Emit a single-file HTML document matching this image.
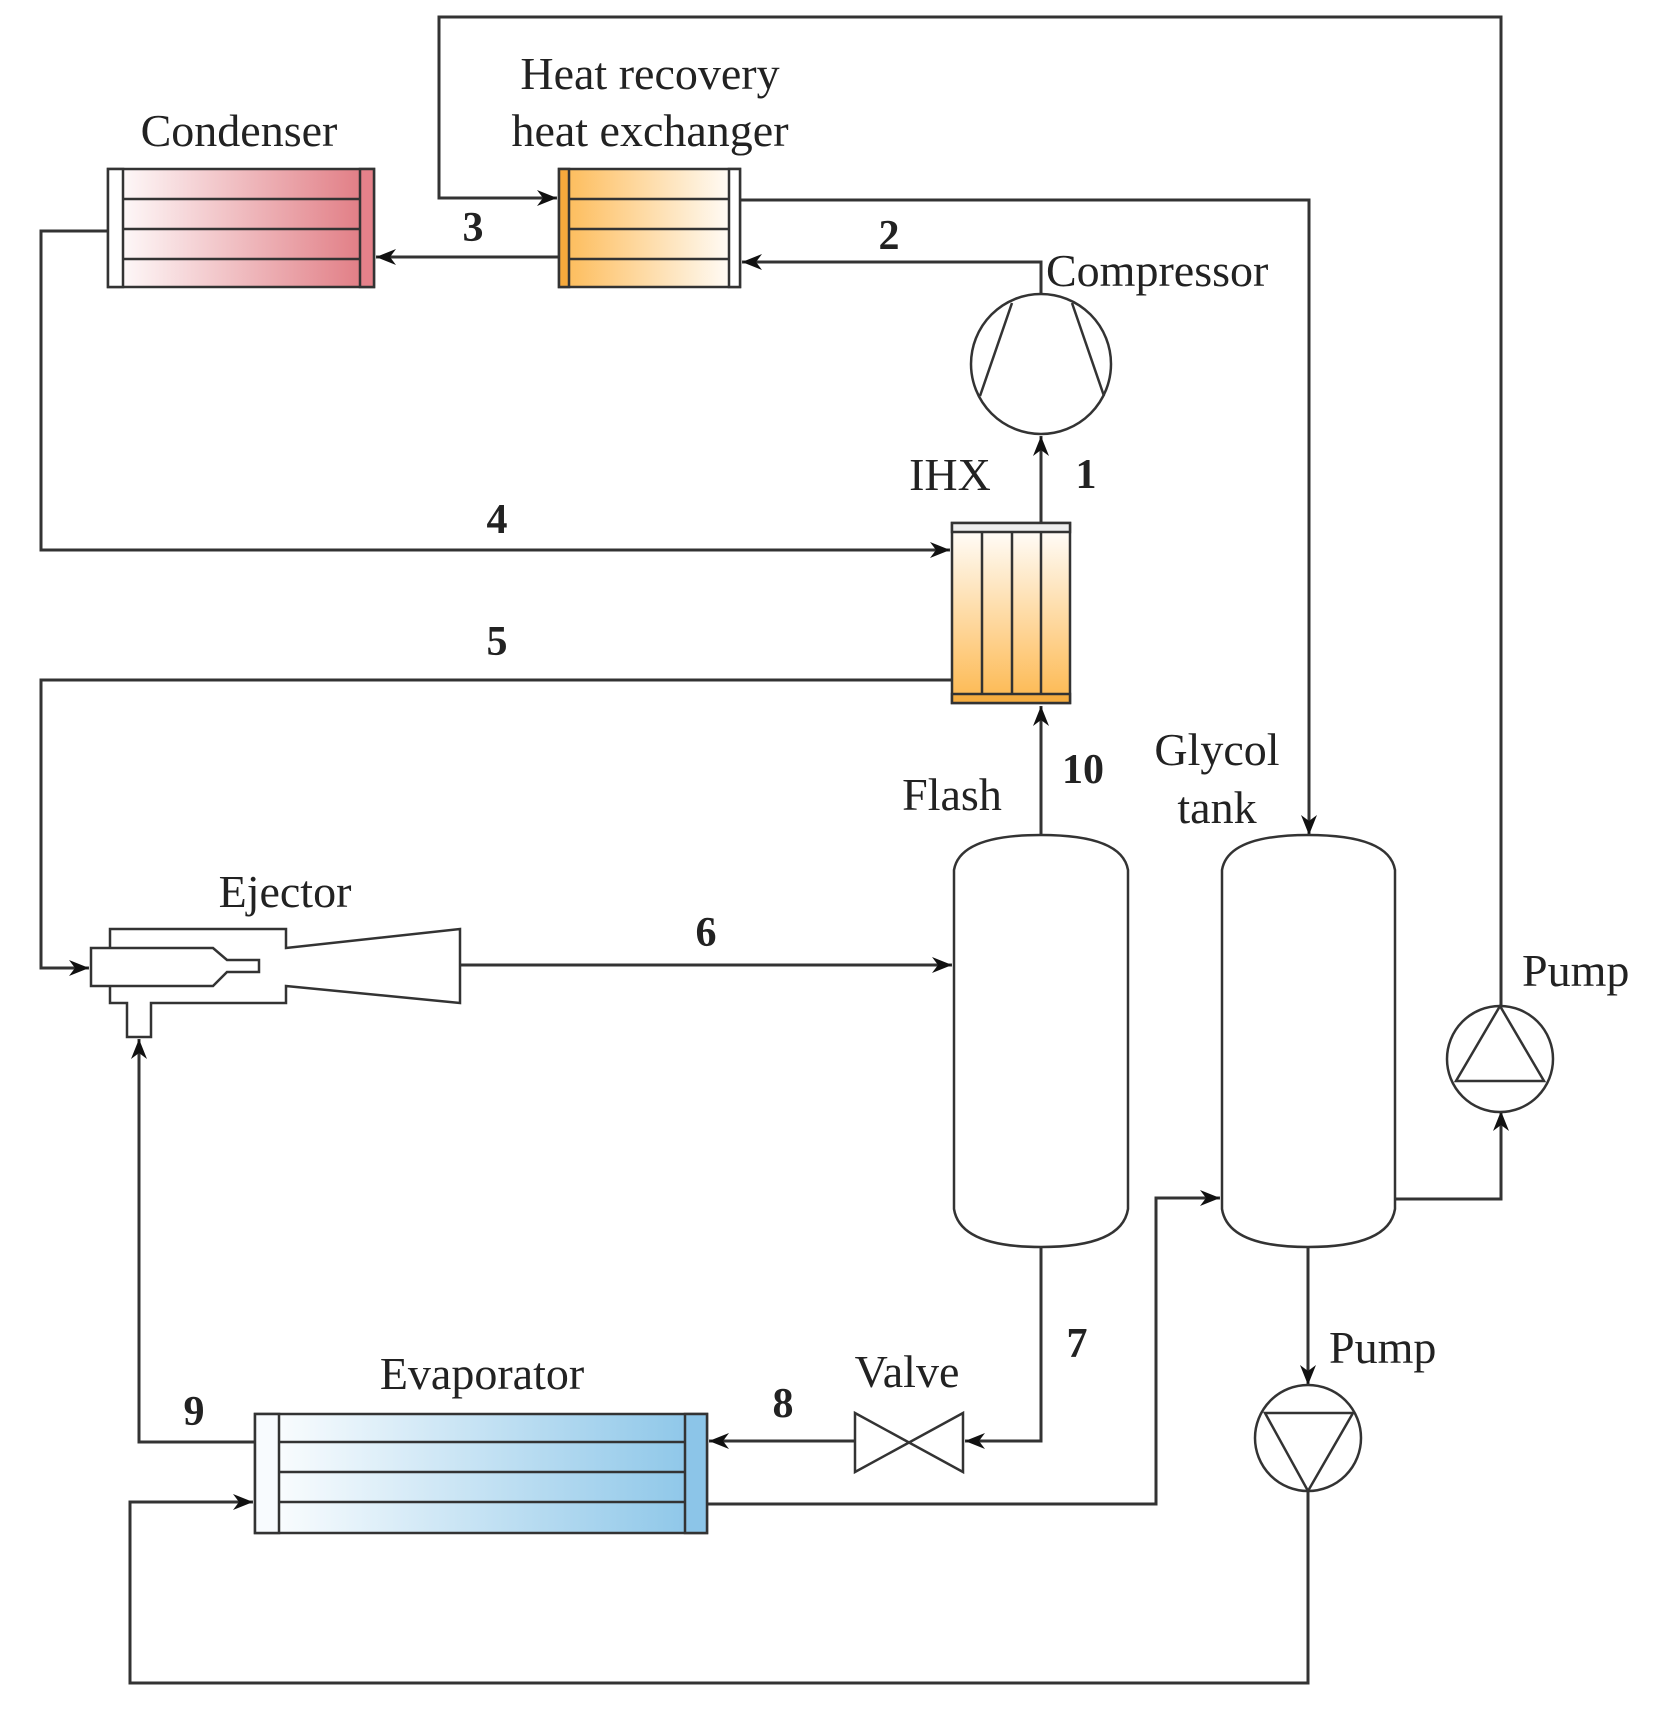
<!DOCTYPE html>
<html><head><meta charset="utf-8"><style>
html,body{margin:0;padding:0;background:#fff;}
svg{display:block;}
text{font-family:"Liberation Serif",serif;fill:#222;}
.l{font-size:46px;}
.n{font-size:42px;font-weight:bold;text-anchor:middle;}
</style></head><body>
<svg width="1659" height="1710" viewBox="0 0 1659 1710" xmlns="http://www.w3.org/2000/svg">
<defs>
<marker id="a" markerUnits="userSpaceOnUse" markerWidth="22" markerHeight="18" refX="20" refY="9" orient="auto">
<path d="M0,1 L20,9 L0,17 L6,9 z" fill="#111"/>
</marker>
<linearGradient id="gc" x1="0" x2="1" y1="0" y2="0"><stop offset="0" stop-color="#fff"/><stop offset="1" stop-color="#e07880"/></linearGradient>
<linearGradient id="gh" x1="0" x2="1" y1="0" y2="0"><stop offset="0" stop-color="#fdba55"/><stop offset="1" stop-color="#fff"/></linearGradient>
<linearGradient id="gi" x1="0" x2="0" y1="0" y2="1"><stop offset="0" stop-color="#fff"/><stop offset="1" stop-color="#fdb84f"/></linearGradient>
<linearGradient id="ge" x1="0" x2="1" y1="0" y2="0"><stop offset="0" stop-color="#fff"/><stop offset="1" stop-color="#8ac5e8"/></linearGradient>
</defs>
<g fill="none" stroke="#333" stroke-width="3">
<polyline points="1501,1111 1501,17 439,17 439,198 557,198" marker-end="url(#a)"/>
<polyline points="740,200 1309,200 1309,835" marker-end="url(#a)"/>
<polyline points="1041,294 1041,262 742,262" marker-end="url(#a)"/>
<polyline points="559,257 376,257" marker-end="url(#a)"/>
<polyline points="108,231 41,231 41,550 950,550" marker-end="url(#a)"/>
<polyline points="1041,523 1041,436" marker-end="url(#a)"/>
<polyline points="952,680 41,680 41,968 89,968" marker-end="url(#a)"/>
<polyline points="1041,835 1041,706" marker-end="url(#a)"/>
<polyline points="460,965 952,965" marker-end="url(#a)"/>
<polyline points="1041,1247 1041,1441 965,1441" marker-end="url(#a)"/>
<polyline points="855,1441 709,1441" marker-end="url(#a)"/>
<polyline points="255,1442 139,1442 139,1039" marker-end="url(#a)"/>
<polyline points="707,1504 1156,1504 1156,1198 1220,1198" marker-end="url(#a)"/>
<polyline points="1395,1199 1501,1199 1501,1111" marker-end="url(#a)"/>
<polyline points="1308,1247 1308,1385" marker-end="url(#a)"/>
<polyline points="1308,1491 1308,1683 130,1683 130,1502 253,1502" marker-end="url(#a)"/>
</g>

<g stroke="#333" stroke-width="2.5">
<rect x="108" y="169" width="266" height="118" fill="url(#gc)"/>
<rect x="108" y="169" width="15" height="118" fill="#fff"/>
<rect x="360" y="169" width="14" height="118" fill="#e5818a"/>
<line x1="123" y1="199" x2="360" y2="199"/><line x1="123" y1="229" x2="360" y2="229"/><line x1="123" y1="259" x2="360" y2="259"/>
</g>
<g stroke="#333" stroke-width="2.5">
<rect x="559" y="169" width="181" height="118" fill="url(#gh)"/>
<rect x="559" y="169" width="10" height="118" fill="#f6a93c"/>
<rect x="729" y="169" width="11" height="118" fill="#fff"/>
<line x1="569" y1="199" x2="729" y2="199"/><line x1="569" y1="229" x2="729" y2="229"/><line x1="569" y1="259" x2="729" y2="259"/>
</g>
<g stroke="#333" stroke-width="2.5">
<rect x="952" y="523" width="118" height="180" fill="url(#gi)"/>
<rect x="952" y="523" width="118" height="9" fill="#eee"/>
<rect x="952" y="694" width="118" height="9" fill="#f6ad40"/>
<line x1="982" y1="532" x2="982" y2="694"/><line x1="1012" y1="532" x2="1012" y2="694"/><line x1="1041" y1="532" x2="1041" y2="694"/>
</g>
<g stroke="#333" stroke-width="2.5">
<rect x="255" y="1414" width="452" height="119" fill="url(#ge)"/>
<rect x="255" y="1414" width="24" height="119" fill="#f8fbfe"/>
<rect x="685" y="1414" width="22" height="119" fill="#8cc5e8"/>
<line x1="279" y1="1442" x2="685" y2="1442"/><line x1="279" y1="1472" x2="685" y2="1472"/><line x1="279" y1="1502" x2="685" y2="1502"/>
</g>
<g fill="none" stroke="#333" stroke-width="2.5">
<circle cx="1041" cy="364" r="70" fill="#fff"/>
<line x1="1012" y1="303" x2="980" y2="396"/>
<line x1="1072" y1="303" x2="1104" y2="396"/>
</g>
<g fill="#fff" stroke="#333" stroke-width="2.5">
<path d="M954,870 Q960,835 1041,835 Q1122,835 1128,870 L1128,1209 Q1122,1247 1041,1247 Q960,1247 954,1209 Z"/>
<path d="M1222,870 Q1228,835 1308,835 Q1389,835 1395,870 L1395,1209 Q1389,1247 1308,1247 Q1228,1247 1222,1209 Z"/>
</g>
<g fill="#fff" stroke="#333" stroke-width="2.5">
<path d="M110,929 L286,929 L286,948 L460,929 L460,1003 L286,986 L286,1003 L151,1003 L151,1037 L127,1037 L127,1003 L110,1003 Z"/>
<path d="M91,948 L213,948 L227,960 L259,960 L259,972 L227,972 L213,986 L91,986 Z"/>
</g>
<path d="M855,1413 L855,1472 L963,1413 L963,1472 Z" fill="#fff" stroke="#333" stroke-width="2.5"/>
<g fill="#fff" stroke="#333" stroke-width="2.5">
<circle cx="1500" cy="1059" r="53"/>
<path d="M1500,1006 L1456,1081 L1544,1081 Z" fill="none"/>
<circle cx="1308" cy="1438" r="53"/>
<path d="M1265,1413 L1353,1413 L1308,1491 Z" fill="none"/>
</g>

<text class="l" x="239" y="146" text-anchor="middle">Condenser</text>
<text class="l" x="650" y="89" text-anchor="middle">Heat recovery</text>
<text class="l" x="650" y="146" text-anchor="middle">heat exchanger</text>
<text class="l" x="1046" y="286">Compressor</text>
<text class="l" x="950" y="490" text-anchor="middle">IHX</text>
<text class="l" x="952" y="810" text-anchor="middle">Flash</text>
<text class="l" x="1217" y="765" text-anchor="middle">Glycol</text>
<text class="l" x="1217" y="823" text-anchor="middle">tank</text>
<text class="l" x="285" y="907" text-anchor="middle">Ejector</text>
<text class="l" x="1522" y="986">Pump</text>
<text class="l" x="1329" y="1363">Pump</text>
<text class="l" x="907" y="1387" text-anchor="middle">Valve</text>
<text class="l" x="482" y="1389" text-anchor="middle">Evaporator</text>

<text class="n" x="473" y="241">3</text>
<text class="n" x="889" y="249">2</text>
<text class="n" x="1086" y="488">1</text>
<text class="n" x="497" y="533">4</text>
<text class="n" x="497" y="655">5</text>
<text class="n" x="1083" y="783">10</text>
<text class="n" x="706" y="946">6</text>
<text class="n" x="1077" y="1357">7</text>
<text class="n" x="783" y="1417">8</text>
<text class="n" x="194" y="1425">9</text>
</svg>
</body></html>
